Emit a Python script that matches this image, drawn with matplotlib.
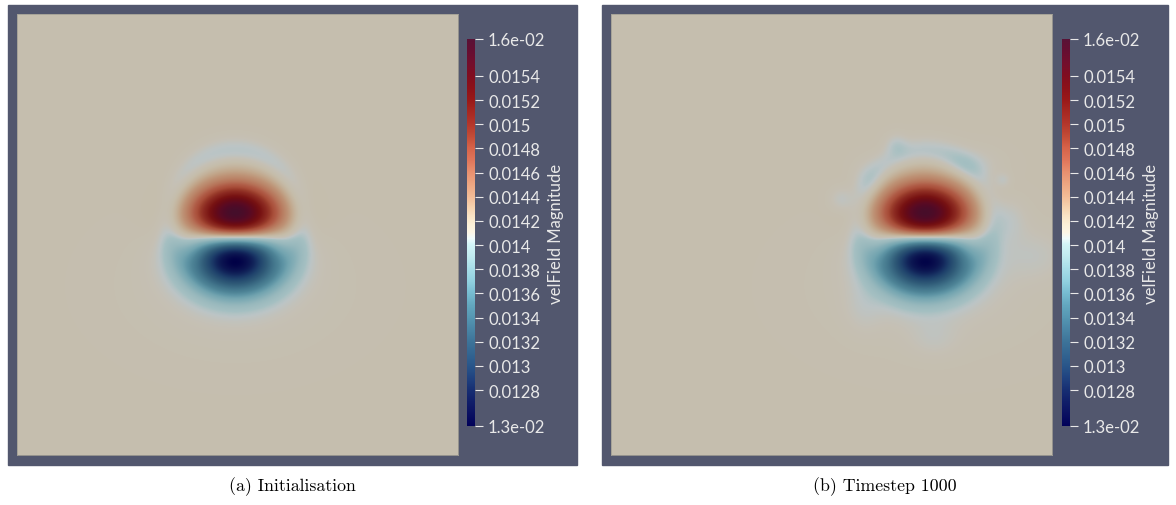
import numpy as np
import matplotlib
matplotlib.use('Agg')
import matplotlib.pyplot as plt
from matplotlib.colors import LinearSegmentedColormap, Normalize
from matplotlib.cm import ScalarMappable

plt.rcParams['font.family'] = ['Lato', 'DejaVu Sans']

W, H = 1176, 506

# colour range of the render and colorbar ticks
vmin, vmax = 0.012503, 0.015706
tick_values = [0.0128, 0.013, 0.0132, 0.0134, 0.0136, 0.0138, 0.014,
               0.0142, 0.0144, 0.0146, 0.0148, 0.015, 0.0152, 0.0154]
tick_labels = ['0.0128', '0.013', '0.0132', '0.0134', '0.0136', '0.0138', '0.014',
               '0.0142', '0.0144', '0.0146', '0.0148', '0.015', '0.0152', '0.0154']
field_name = 'velField Magnitude'
captions = ['(a) Initialisation', '(b) Timestep 1000']

# free stream speed and the vortex dipole of each panel
u_inf = 0.01414
dip_amp = [0.00158, 0.00156]
dip_center = [(0.495, 0.494), (0.713, 0.494)]
dip_size = [(0.066, 0.056), (0.065, 0.056)]

# slow patches around the dipole: (dx, dy, sx, sy, ring, amount)
# ring = radius (in sx/sy units) of the ridge, 0 for a plain bump
wake_a = [(0.0, 0.035, 0.02, 0.0213, 7.5, 0.00011),
          (0.0, -0.11, 0.14, 0.09, 0.0, 0.00005)]
wake_b = [(0.0, 0.035, 0.02, 0.0213, 7.5, 0.00011),
          (0.02, -0.11, 0.15, 0.09, 0.0, 0.00005),
          (0.185, 0.04, 0.03, 0.035, 0.0, 0.00008),
          (0.10, 0.165, 0.045, 0.025, 0.0, 0.00007),
          (-0.13, 0.13, 0.025, 0.03, 0.0, 0.00006),
          (-0.066, 0.21, 0.017, 0.017, 0.0, 0.00007),
          (-0.19, 0.086, 0.019, 0.019, 0.0, 0.00007),
          (0.177, 0.13, 0.012, 0.012, 0.0, 0.00006),
          (0.02, -0.23, 0.04, 0.03, 0.0, 0.00004),
          (-0.14, -0.16, 0.03, 0.04, 0.0, 0.00004),
          (0.25, -0.04, 0.05, 0.04, 0.0, 0.00005)]
wakes = [wake_a, wake_b]

# ParaView "Cool to Warm (Extended)"
ctw = [(0.0, (0.0, 0.0, 0.34902)), (0.03125, (0.039216, 0.062745, 0.380392)),
       (0.0625, (0.062745, 0.117647, 0.411765)), (0.09375, (0.090196, 0.184314, 0.45098)),
       (0.125, (0.12549, 0.262745, 0.501961)), (0.15625, (0.160784, 0.337255, 0.541176)),
       (0.1875, (0.2, 0.396078, 0.568627)), (0.21875, (0.239216, 0.454902, 0.6)),
       (0.25, (0.286275, 0.521569, 0.65098)), (0.28125, (0.337255, 0.592157, 0.701961)),
       (0.3125, (0.388235, 0.654902, 0.74902)), (0.34375, (0.466667, 0.737255, 0.819608)),
       (0.375, (0.572549, 0.819608, 0.878431)), (0.40625, (0.654902, 0.866667, 0.909804)),
       (0.4375, (0.752941, 0.917647, 0.941176)), (0.46875, (0.823529, 0.956863, 0.968627)),
       (0.485, (0.941176, 0.984314, 0.988235)), (0.5, (0.988235, 0.960784, 0.901961)),
       (0.52, (0.988235, 0.945098, 0.85098)), (0.54, (0.980392, 0.898039, 0.784314)),
       (0.5625, (0.968627, 0.835294, 0.698039)), (0.59375, (0.94902, 0.733333, 0.588235)),
       (0.625, (0.929412, 0.65098, 0.509804)), (0.65625, (0.909804, 0.564706, 0.435294)),
       (0.6875, (0.878431, 0.458824, 0.352941)), (0.71875, (0.839216, 0.388235, 0.286275)),
       (0.75, (0.760784, 0.294118, 0.211765)), (0.78125, (0.701961, 0.211765, 0.168627)),
       (0.8125, (0.65098, 0.156863, 0.129412)), (0.84375, (0.6, 0.094118, 0.094118)),
       (0.875, (0.54902, 0.066667, 0.098039)), (0.90625, (0.501961, 0.05098, 0.12549)),
       (0.9375, (0.45098, 0.054902, 0.172549)), (0.96875, (0.4, 0.054902, 0.192157)),
       (1.0, (0.34902, 0.070588, 0.211765))]
cmap = LinearSegmentedColormap.from_list('ctw', ctw, N=1024)
# the surface is lit, so it shows darker than the colorbar
shade = 0.785
cmap_lit = LinearSegmentedColormap.from_list(
    'ctw_lit', [(p, tuple(c * shade for c in col)) for p, col in ctw], N=1024)
norm = Normalize(vmin, vmax)

bg = '#52576e'
txt = '#e8e8e8'

n = 441
xs = np.linspace(0, 1, n)
X, Y = np.meshgrid(xs, xs)


def speed(center, size, amp, wake):
    dx = X - center[0]
    dy = Y - center[1]
    sx, sy = size
    g = np.exp(-0.5 * ((dx / sx) ** 2 + (dy / sy) ** 2))
    v = u_inf + amp * np.sqrt(np.e) * dy / sy * g
    for ox, oy, wx, wy, ring, a in wake:
        r = np.sqrt(((dx - ox) / wx) ** 2 + ((dy - oy) / wy) ** 2)
        v = v - a * np.exp(-0.5 * (r - ring) ** 2)
    return v


fig = plt.figure(figsize=(W / 100, H / 100), dpi=100)
fig.patch.set_facecolor('white')

panel_x = [8, 602]
panel_w = [569, 566]
field_x = [17, 611]
cbar_x = [467, 1062]

for i in range(2):
    fig.add_artist(plt.Rectangle((panel_x[i] / W, 40 / H), panel_w[i] / W, 460 / H,
                                 transform=fig.transFigure, color=bg, zorder=0))

    ax = fig.add_axes([field_x[i] / W, 50 / H, 441 / W, 441 / H])
    v = speed(dip_center[i], dip_size[i], dip_amp[i], wakes[i])
    ax.imshow(v, origin='lower', extent=(0, 1, 0, 1), cmap=cmap_lit, norm=norm,
              interpolation='bilinear', aspect='auto')
    ax.set_xticks([])
    ax.set_yticks([])
    for s in ax.spines.values():
        s.set_color('#a19e94')
        s.set_linewidth(0.6)

    cax = fig.add_axes([cbar_x[i] / W, 79 / H, 8 / W, 387 / H])
    cb = fig.colorbar(ScalarMappable(norm=norm, cmap=cmap), cax=cax)
    cb.outline.set_visible(False)
    cb.set_ticks([vmin] + tick_values + [vmax])
    cb.set_ticklabels([f'{vmin:.1e}'] + tick_labels + [f'{vmax:.1e}'])
    cax.tick_params(colors=txt, length=5.8, width=0.8, pad=3.6, labelsize=12)

    fig.text((cbar_x[i] + 89) / W, 1 - 234 / H, field_name, rotation=90,
             ha='center', va='center', color=txt, fontsize=12)

    fig.text((panel_x[i] + panel_w[i] / 2) / W, 1 - 487 / H, captions[i],
             ha='center', va='center', family='cmr10', fontsize=12.8, color='black')

fig.savefig('out.png', dpi=100)
